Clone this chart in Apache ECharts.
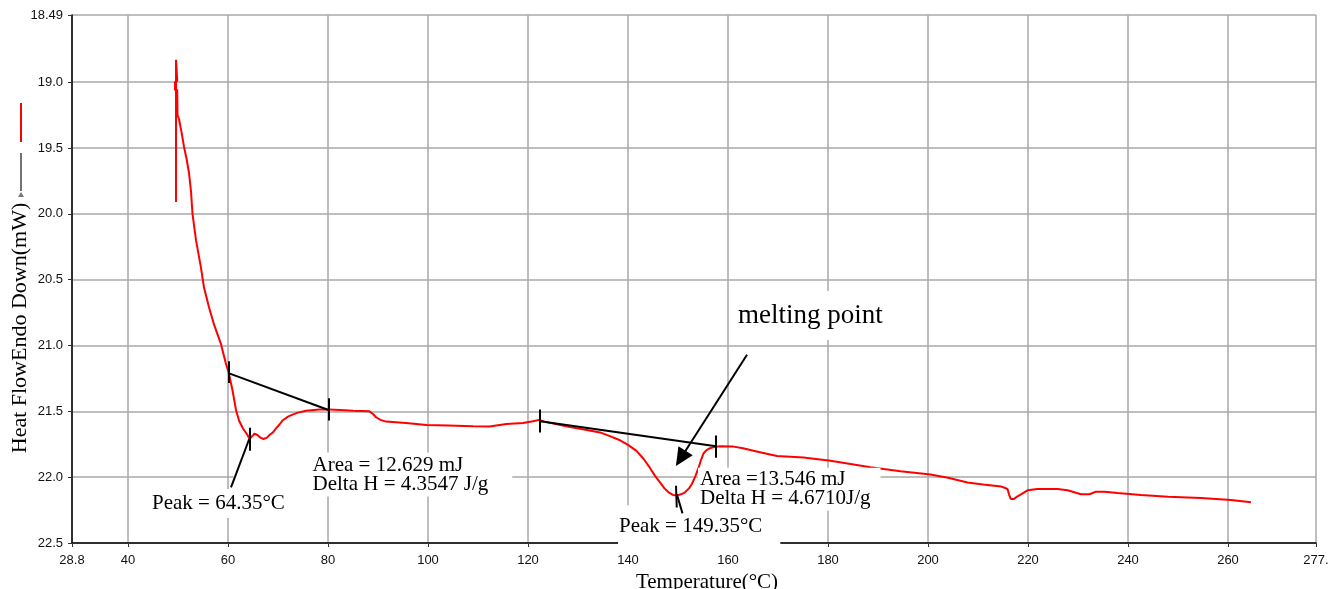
<!DOCTYPE html>
<html>
<head>
<meta charset="utf-8">
<script src="https://cdn.jsdelivr.net/npm/echarts@6/dist/echarts.min.js"></script>
<style>html,body{margin:0;padding:0;background:#fff;}#c{width:1335px;height:589px;}</style>
</head>
<body>
<div id="c"></div>
<script>
// ---- data ----
const temperature = [49.6,49.6,49.85,49.85,49.4,49.4,49.85,49.9,50.2,50.7,51.2,51.7,52.2,52.6,52.9,53.6,54.6,55.2,56.2,57.2,58.6,59.6,60.1,60.9,61.6,62.2,63.0,63.9,64.3,64.8,65.3,65.9,66.5,67.1,67.8,68.3,69.0,69.6,70.3,70.9,72.0,72.9,74.0,75.6,78.3,80.1,82.5,85.0,88.3,89.0,89.6,90.5,91.6,95.6,99.7,104,109,112.3,114,115.7,119,121,122.2,123.5,126,128.4,131.5,134.4,136.5,138.4,140,141.7,143.1,144.4,145.4,146.4,147.3,148.1,149.0,149.75,150.6,151.4,152.2,152.8,153.5,154.1,154.6,155.1,155.7,156.4,157.4,158.4,161.1,163,165.1,167.5,169.8,175.1,180.5,184.5,188.5,194.5,200.5,204,207.9,211,214.6,215.9,216.2,216.55,217.2,217.9,218.6,219.9,221.9,225.9,227.9,230.6,232.3,233.6,235.3,237.9,242.6,248,254.6,260.6,264.6];
const heatFlow = [19.91,18.83,18.83,18.99,19.0,19.06,19.06,19.25,19.28,19.38,19.49,19.58,19.69,19.83,20.0,20.2,20.41,20.56,20.71,20.84,20.99,21.14,21.2,21.34,21.49,21.57,21.63,21.68,21.71,21.69,21.67,21.68,21.70,21.71,21.70,21.68,21.66,21.63,21.60,21.57,21.54,21.525,21.51,21.495,21.487,21.487,21.49,21.495,21.5,21.52,21.545,21.565,21.578,21.588,21.603,21.608,21.614,21.616,21.605,21.596,21.588,21.575,21.565,21.58,21.6,21.62,21.64,21.66,21.69,21.72,21.755,21.80,21.86,21.93,21.99,22.04,22.085,22.115,22.135,22.14,22.13,22.115,22.085,22.05,21.99,21.93,21.87,21.82,21.795,21.78,21.77,21.766,21.768,21.78,21.80,21.82,21.84,21.85,21.875,21.9,21.925,21.955,21.98,22.005,22.04,22.055,22.07,22.09,22.13,22.165,22.165,22.145,22.13,22.1,22.09,22.09,22.1,22.13,22.13,22.11,22.11,22.12,22.135,22.148,22.158,22.173,22.19];

const xMin = 28.8, xMax = 277.6;
const yMin = 18.49, yMax = 22.5;
const xTickValues = [28.8,40,60,80,100,120,140,160,180,200,220,240,260,277.6];
const xTickLabels = ['28.8','40','60','80','100','120','140','160','180','200','220','240','260','277.'];
const yTickValues = [18.49,19.0,19.5,20.0,20.5,21.0,21.5,22.0,22.5];
const yTickLabels = ['18.49','19.0','19.5','20.0','20.5','21.0','21.5','22.0','22.5'];

// annotation segments (data coordinates)
const baselineSegments = [
  [[60.1,21.21],[80.1,21.49]],
  [[122.4,21.575],[157.6,21.766]]
];
const markerTicks = [
  [[60.1,21.12],[60.1,21.285]],
  [[80.1,21.40],[80.1,21.57]],
  [[64.25,21.625],[64.25,21.80]],
  [[122.4,21.487],[122.4,21.66]],
  [[157.6,21.684],[157.6,21.852]],
  [[149.6,22.065],[149.75,22.23]]
];
const peakPointers = [
  [[64.25,21.71],[60.6,22.077]],
  [[149.75,22.128],[150.9,22.275]]
];
const arrowSegment = [[163.8,21.07],[150.55,21.857]];

// drawn in this order (later ones on top)
const noteTexts = ['Peak = 149.35°C','Area = 12.629 mJ\nDelta H = 4.3547 J/g','Area =13.546 mJ\nDelta H = 4.6710J/g','Peak = 64.35°C','melting point'];
const notePositions = [[138.2,22.372],[76.9,21.98],[154.4,22.091],[44.8,22.2],[162.0,20.773]];

// ---- chart ----
const serif = '"Liberation Serif","Times New Roman",serif';
const sans = '"Liberation Sans",Arial,sans-serif';
const fmt = (vals, labels) => v => {
  for (let i = 0; i < vals.length; i++) if (Math.abs(vals[i] - v) < 1e-6) return labels[i];
  return '';
};

const lineData = [];
baselineSegments.concat(markerTicks, peakPointers).forEach(s => {
  lineData.push([{coord: s[0]}, {coord: s[1]}]);
});
lineData.push([{coord: arrowSegment[0], symbol: 'none'}, {coord: arrowSegment[1], symbol: 'triangle', symbolSize: [17, 18]}]);

const notePads = [[7,18,12,1],[3,24,3,79],[3,10,2,2],[3,4,3,3],[10,6,10,3]];
const noteSizes = [21,21,21,21,27];
const noteData = noteTexts.map((t, i) => ({
  value: notePositions[i],
  label: {
    formatter: t,
    fontSize: noteSizes[i],
    lineHeight: i === 1 || i === 2 ? 19 : noteSizes[i] + 2,
    padding: notePads[i],
    offset: [-notePads[i][3], 0]
  }
}));

const chart = echarts.init(document.getElementById('c'), null, {renderer: 'canvas'});
chart.setOption({
  animation: false,
  backgroundColor: '#fff',
  grid: {left: 72, right: 19, top: 15, bottom: 46, containLabel: false, outerBoundsMode: 'none'},
  xAxis: {
    type: 'value', min: xMin, max: xMax,
    name: 'Temperature(°C)', nameLocation: 'middle', nameGap: 23,
    nameTextStyle: {fontFamily: serif, fontSize: 21, color: '#000', padding: [0, 0, 0, 26]},
    axisLine: {show: true, onZero: false, lineStyle: {color: '#000', width: 1.5}},
    axisTick: {show: true, length: 4, customValues: xTickValues, lineStyle: {color: '#333', width: 1}},
    axisLabel: {customValues: xTickValues, formatter: fmt(xTickValues, xTickLabels), fontFamily: sans, fontSize: 13, color: '#111', margin: 11, showMinLabel: true, showMaxLabel: true},
    splitLine: {show: true, lineStyle: {color: '#a8a8a8', width: 1.5}}
  },
  yAxis: {
    type: 'value', min: yMin, max: yMax, inverse: true,
    axisLine: {show: true, onZero: false, lineStyle: {color: '#000', width: 1.5}},
    axisTick: {show: true, length: 4, customValues: yTickValues, lineStyle: {color: '#333', width: 1}},
    axisLabel: {customValues: yTickValues, formatter: fmt(yTickValues, yTickLabels), fontFamily: sans, fontSize: 13, color: '#111', margin: 9, showMinLabel: true, showMaxLabel: true},
    splitLine: {show: true, lineStyle: {color: '#a8a8a8', width: 1.5}}
  },
  graphic: [
    {type: 'text', x: 20.5, y: 328, rotation: Math.PI / 2,
     style: {text: 'Heat FlowEndo Down(mW)', x: 0, y: 0, align: 'center', verticalAlign: 'middle', font: '22px ' + serif, fill: '#000'}},
    {type: 'line', shape: {x1: 21, y1: 103, x2: 21, y2: 142}, style: {stroke: '#ff0000', lineWidth: 2}},
    {type: 'line', shape: {x1: 21, y1: 153, x2: 21, y2: 191}, style: {stroke: '#444', lineWidth: 1.5}},
    {type: 'polygon', shape: {points: [[18, 197], [24, 197], [21, 192]]}, style: {fill: '#777'}}
  ],
  series: [
    {
      name: 'Heat Flow', type: 'line', z: 3,
      data: temperature.map((t, i) => [t, heatFlow[i]]),
      showSymbol: false, symbol: 'none', smooth: false,
      lineStyle: {color: '#ff0000', width: 2},
      emphasis: {disabled: true}
    },
    {
      name: 'notes', type: 'scatter', z: 4, symbolSize: 0, silent: true,
      itemStyle: {color: 'rgba(0,0,0,0)', opacity: 1},
      label: {show: true, position: 'right', distance: 0, align: 'left', verticalAlign: 'middle', opacity: 1,
              fontFamily: serif, color: '#000', backgroundColor: '#fff'},
      data: noteData,
      emphasis: {disabled: true}
    },
    {
      name: 'annotations', type: 'line', z: 6, data: [], silent: true,
      markLine: {
        silent: true, symbol: ['none', 'none'], animation: false,
        label: {show: false},
        lineStyle: {color: '#000', width: 2, type: 'solid', opacity: 1},
        emphasis: {disabled: true},
        data: lineData
      }
    }
  ]
});
</script>
</body>
</html>
